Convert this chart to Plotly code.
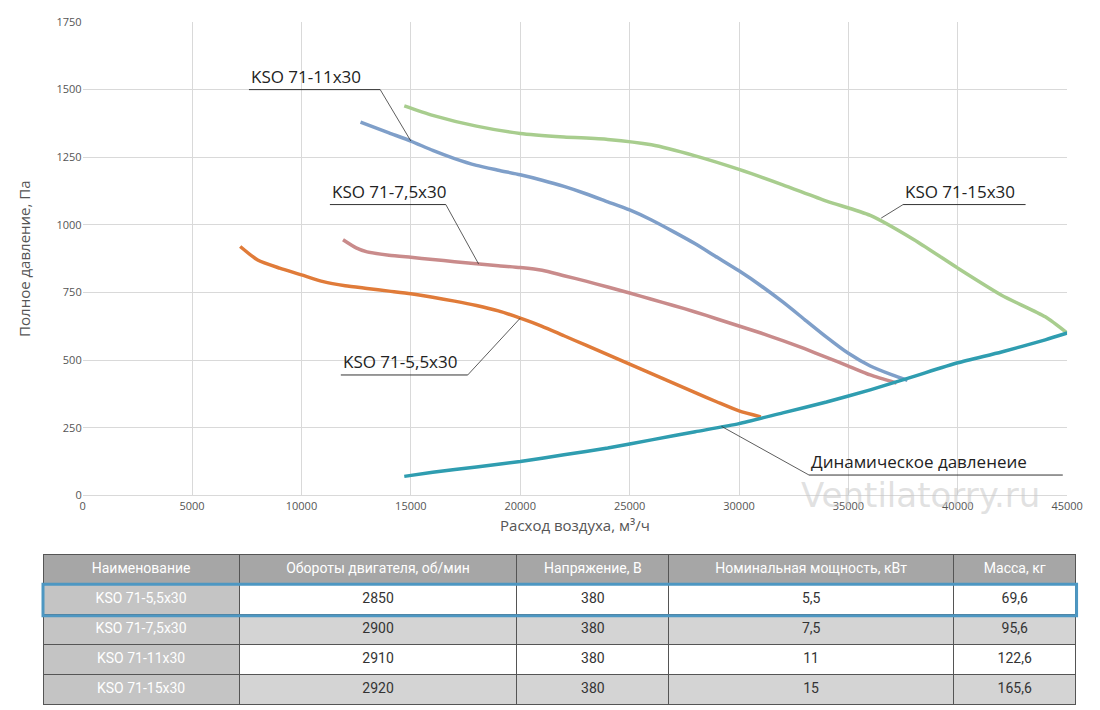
import plotly.graph_objects as go

x55 = [7200,8000,9000,10000,11000,12000,13000,14000,15000,16000,17000,18000,19000,20000,21000,22000,23000,24000,25000,26000,27000,28000,29000,30000,31000]
y55 = [920,870,840,815,790,775,765,755,745,732,718,702,682,655,625,590,555,520,485,450,415,380,345,312,290]
x75 = [11900,12500,13000,14000,15000,16000,17000,18000,19000,20000,21000,22000,23000,24000,25000,26000,27000,28000,29000,30000,31000,32000,33000,34000,35000,36000,37200]
y75 = [945,915,900,888,880,872,864,856,849,842,832,812,792,770,748,725,702,678,652,626,600,572,542,510,478,445,415]
x11 = [12700,14000,15000,16000,17000,18000,19000,20000,21000,22000,23000,24000,25000,26000,27000,28000,29000,30000,31000,32000,33000,34000,35000,36000,37000,37700]
y11 = [1380,1340,1310,1275,1245,1220,1202,1185,1165,1142,1115,1085,1055,1018,975,930,880,830,775,715,650,585,525,478,445,425]
x15 = [14700,16000,18000,20000,22000,24000,26000,28000,30000,32000,34000,36000,38000,40000,42000,44000,45000]
y15 = [1440,1405,1365,1338,1325,1316,1296,1255,1205,1148,1088,1035,945,840,740,660,600]
xd = [14700,16000,18000,20000,22000,24000,26000,28000,30000,32000,34000,36000,38000,40000,42000,44000,45000]
yd = [70,85,105,125,150,175,205,235,265,305,345,390,440,490,530,575,600]

names = ["KSO 71-5,5x30","KSO 71-7,5x30","KSO 71-11x30","KSO 71-15x30"]
rpm = ["2850","2900","2910","2920"]
volt = ["380","380","380","380"]
power = ["5,5","7,5","11","15"]
mass = ["69,6","95,6","122,6","165,6"]
headers = ["Наименование","Обороты двигателя, об/мин","Напряжение, В","Номинальная мощность, кВт","Масса, кг"]
xticks = list(range(0, 45001, 5000))

fig = go.Figure()
for x, y, c in [(x55,y55,"#e07b39"),(x75,y75,"#c98b8b"),(x11,y11,"#7f9fc9"),(x15,y15,"#a8cd8e"),(xd,yd,"#2f9db0")]:
    fig.add_trace(go.Scatter(x=x, y=y, mode="lines", line=dict(color=c, width=3.5, shape="spline", smoothing=0.6),
                             showlegend=False, hoverinfo="skip"))

fig.add_annotation(x=38300, y=0, text="Ventilatorry.ru", showarrow=False, xanchor="center", yanchor="middle",
                   font=dict(size=34, color="rgba(200,200,200,0.55)", family="DejaVu Sans"))

# labels: (text, text-left x, baseline y, underline end x, joint x, point x, point y)
labels = [("KSO 71-11x30", 7600, 1500, 13600, 13600, 15000, 1310),
          ("KSO 71-7,5x30", 11300, 1075, 16600, 16600, 18100, 855),
          ("KSO 71-5,5x30", 11800, 445, 17600, 17600, 20000, 655),
          ("KSO 71-15x30", 37500, 1075, 43100, 37500, 36500, 1025),
          ("Динамическое давленеие", 33200, 75, 44800, 33200, 29200, 255)]
for t, x0, yb, x1, jx, px, py in labels:
    fig.add_shape(type="line", x0=x0, x1=x1, y0=yb, y1=yb, line=dict(color="#333", width=1))
    fig.add_shape(type="line", x0=jx, x1=px, y0=yb, y1=py, line=dict(color="#333", width=0.8))
    fig.add_annotation(x=x0, y=yb, text=t, showarrow=False, xanchor="left", yanchor="bottom",
                       font=dict(size=17, color="#222", family="Open Sans"))

n = len(names)
fills = [["#c4c4c4"]*n] + [["#ffffff","#d4d4d4","#ffffff","#d4d4d4"]]*4
fig.add_trace(go.Table(
    domain=dict(x=[0,0.99], y=[0,0.222]),
    columnwidth=[200,283,155,290,125],
    header=dict(values=headers, fill_color="#a6a6a6", line_color="#555",
                font=dict(color="white", size=14, family="Roboto"), height=30, align="center"),
    cells=dict(values=[names,rpm,volt,power,mass], fill_color=fills, line_color="#555",
               font=dict(color=[["white"]*n] + [["#333"]*n]*4, size=14, family="Roboto"), height=30, align="center")))
fig.add_shape(type="rect", xref="paper", yref="paper", x0=0.0, x1=0.99, y0=0.132, y1=0.178,
              line=dict(color="#4d97c2", width=3))

fig.update_layout(
    width=1100, height=710, margin=dict(l=35, r=12, t=14, b=5),
    paper_bgcolor="white", plot_bgcolor="white",
    xaxis=dict(domain=[0.038,0.981], range=[0,45000], tickvals=xticks, ticktext=[str(v) for v in xticks],
               showgrid=True, gridcolor="#d9d9d9", zeroline=False, showline=True, linecolor="#d9d9d9",
               tickfont=dict(size=11, color="#555"),
               title=dict(text="Расход воздуха, м³/ч", font=dict(size=15, color="#555"), standoff=8)),
    yaxis=dict(domain=[0.308,1], range=[0,1750], tickvals=list(range(0,1751,250)),
               showgrid=True, gridcolor="#d9d9d9", zeroline=False, tickfont=dict(size=11, color="#555"),
               title=dict(text="Полное давление, Па", font=dict(size=15, color="#555"), standoff=22)),
)
fig.write_html("out.html")
